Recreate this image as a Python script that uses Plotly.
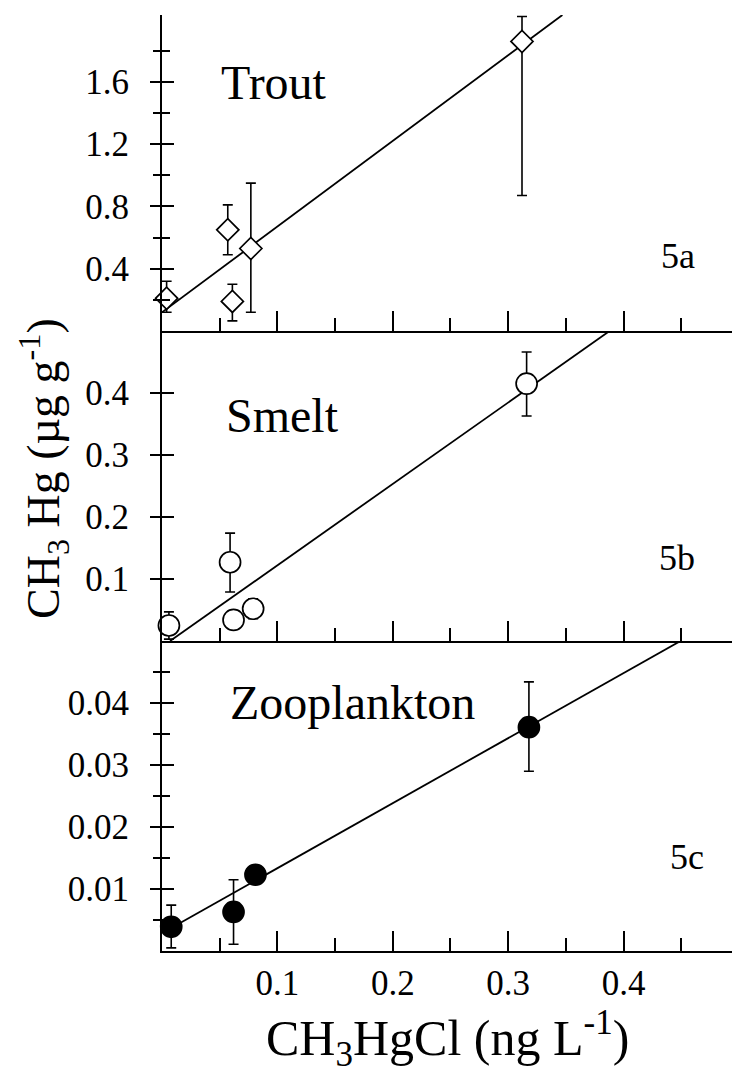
import plotly.graph_objects as go

# ---------------- data ----------------
trout_x = [0.004, 0.057, 0.061, 0.077, 0.312]
trout_y = [0.21, 0.65, 0.19, 0.53, 1.86]
trout_err_plus = [0.11, 0.16, 0.11, 0.42, 0.16]
trout_err_minus = [0.09, 0.16, 0.125, 0.41, 0.99]
trout_fit_x = [0.0, 0.347]
trout_fit_y = [0.12, 2.03]

smelt_x = [0.006, 0.059, 0.062, 0.079, 0.316]
smelt_y = [0.025, 0.127, 0.034, 0.052, 0.415]
smelt_err_plus = [0.022, 0.047, 0.0, 0.016, 0.051]
smelt_err_minus = [0.022, 0.048, 0.0, 0.016, 0.052]
smelt_fit_x = [0.007, 0.394]
smelt_fit_y = [0.0, 0.508]

zoo_x = [0.008, 0.062, 0.081, 0.318]
zoo_y = [0.0039, 0.0063, 0.0123, 0.0361]
zoo_err_plus = [0.0035, 0.0052, 0.0, 0.0073]
zoo_err_minus = [0.0034, 0.0052, 0.0, 0.0071]
zoo_fit_x = [0.008, 0.457]
zoo_fit_y = [0.0037, 0.0508]

x_tickvals = [0.1, 0.2, 0.3, 0.4]
x_ticktext = ["0.1", "0.2", "0.3", "0.4"]
x_minorvals = [0.05, 0.15, 0.25, 0.35, 0.45]

trout_tickvals = [0.4, 0.8, 1.2, 1.6]
trout_ticktext = ["0.4", "0.8", "1.2", "1.6"]
trout_minorvals = [0.2, 0.6, 1.0, 1.4, 1.8]

smelt_tickvals = [0.1, 0.2, 0.3, 0.4]
smelt_ticktext = ["0.1", "0.2", "0.3", "0.4"]

zoo_tickvals = [0.01, 0.02, 0.03, 0.04]
zoo_ticktext = ["0.01", "0.02", "0.03", "0.04"]
zoo_minorvals = [0.005, 0.015, 0.025, 0.035, 0.045]

# ---------------- style ----------------
FONT = "Liberation Serif"
INK = "black"
TICKFONT = dict(family=FONT, size=35, color=INK)

fig = go.Figure()


def add_panel(xs, ys, ep, em, fx, fy, xa, ya, symbol, size, fill):
    fig.add_trace(go.Scatter(
        x=fx, y=fy, mode="lines", line=dict(color=INK, width=1.8),
        xaxis=xa, yaxis=ya, showlegend=False, hoverinfo="skip"))
    fig.add_trace(go.Scatter(
        x=xs, y=ys, mode="markers",
        marker=dict(symbol=symbol, size=size, color=fill,
                    line=dict(color=INK, width=1.7)),
        error_y=dict(type="data", symmetric=False, array=ep, arrayminus=em,
                     color=INK, thickness=1.6, width=5),
        xaxis=xa, yaxis=ya, showlegend=False, cliponaxis=False))


add_panel(trout_x, trout_y, trout_err_plus, trout_err_minus,
          trout_fit_x, trout_fit_y, "x", "y", "diamond", 17, "white")
add_panel(smelt_x, smelt_y, smelt_err_plus, smelt_err_minus,
          smelt_fit_x, smelt_fit_y, "x2", "y2", "circle", 21, "white")
add_panel(zoo_x, zoo_y, zoo_err_plus, zoo_err_minus,
          zoo_fit_x, zoo_fit_y, "x3", "y3", "circle", 21, INK)

# empty traces to register overlay axes (inner half of crossing ticks)
for xa, ya in (("x", "y4"), ("x2", "y5"), ("x3", "y6")):
    fig.add_trace(go.Scatter(x=[], y=[], xaxis=xa, yaxis=ya,
                             showlegend=False, hoverinfo="skip"))

XR = [0, 0.494]
dom_c = [0, 0.3312]
dom_b = [0.3312, 0.6624]
dom_a = [0.6624, 1.0]


def xaxis(anchor, labels):
    return dict(
        range=XR, anchor=anchor, domain=[0, 1],
        showline=True, linewidth=2, linecolor=INK, mirror=False,
        showgrid=False, zeroline=False,
        ticks="inside", ticklen=20, tickwidth=1.5, tickcolor=INK,
        tickmode="array", tickvals=x_tickvals, ticktext=x_ticktext,
        showticklabels=labels, tickfont=TICKFONT, ticklabelstandoff=0,
        minor=dict(tickmode="array", tickvals=x_minorvals, ticks="inside",
                   ticklen=13, tickwidth=1.5, tickcolor=INK),
        fixedrange=True)


def yaxis(dom, rng, tv, tt, mv, anchor):
    d = dict(
        domain=dom, range=rng, anchor=anchor,
        showline=True, linewidth=2, linecolor=INK,
        showgrid=False, zeroline=False,
        ticks="outside", ticklen=10, tickwidth=1.5, tickcolor=INK,
        tickmode="array", tickvals=tv, ticktext=tt,
        tickfont=TICKFONT, ticklabelstandoff=14, fixedrange=True)
    if mv:
        d["minor"] = dict(tickmode="array", tickvals=mv, ticks="outside",
                          ticklen=7, tickwidth=1.5, tickcolor=INK)
    return d


def yinner(dom, rng, tv, mv, anchor, over):
    d = dict(
        domain=dom, range=rng, anchor=anchor, overlaying=over, side="left",
        showline=False, showgrid=False, zeroline=False,
        ticks="inside", ticklen=12, tickwidth=1.5, tickcolor=INK,
        tickmode="array", tickvals=tv, showticklabels=False, fixedrange=True)
    if mv:
        d["minor"] = dict(tickmode="array", tickvals=mv, ticks="inside",
                          ticklen=8, tickwidth=1.5, tickcolor=INK)
    return d


RA, RB, RC = [0, 2.03], [0, 0.5], [0, 0.05]

fig.update_layout(
    width=732, height=1073,
    margin=dict(l=162, r=0, t=15, b=122, pad=0),
    paper_bgcolor="white", plot_bgcolor="white",
    font=dict(family=FONT, color=INK),
    xaxis=xaxis("y", False),
    xaxis2=xaxis("y2", False),
    xaxis3=xaxis("y3", True),
    yaxis=yaxis(dom_a, RA, trout_tickvals, trout_ticktext, trout_minorvals, "x"),
    yaxis2=yaxis(dom_b, RB, smelt_tickvals, smelt_ticktext, None, "x2"),
    yaxis3=yaxis(dom_c, RC, zoo_tickvals, zoo_ticktext, zoo_minorvals, "x3"),
    yaxis4=yinner(dom_a, RA, trout_tickvals, trout_minorvals, "x", "y"),
    yaxis5=yinner(dom_b, RB, smelt_tickvals, None, "x2", "y2"),
    yaxis6=yinner(dom_c, RC, zoo_tickvals, zoo_minorvals, "x3", "y3"),
    showlegend=False,
)

LABEL = dict(family=FONT, size=48, color=INK)
PANEL = dict(family=FONT, size=36, color=INK)
anns = [
    dict(text="Trout", x=0.0974, y=1.594, xref="x", yref="y", font=LABEL),
    dict(text="Smelt", x=0.1043, y=0.3645, xref="x2", yref="y2", font=LABEL),
    dict(text="Zooplankton", x=0.165, y=0.040, xref="x3", yref="y3", font=LABEL),
    dict(text="5a", x=0.447, y=0.484, xref="x", yref="y", font=PANEL),
    dict(text="5b", x=0.4463, y=0.134, xref="x2", yref="y2", font=PANEL),
    dict(text="5c", x=0.455, y=0.01516, xref="x3", yref="y3", font=PANEL),
    dict(text="CH<sub>3</sub> Hg (µg g<sup>-1</sup>)", x=-0.207, y=0.515,
         xref="paper", yref="paper", textangle=-90,
         font=dict(family=FONT, size=46, color=INK)),
    dict(text="CH<sub>3</sub>HgCl (ng L<sup>-1</sup>)", x=0.5, y=-0.093,
         xref="paper", yref="paper",
         font=dict(family=FONT, size=50, color=INK)),
]
for a in anns:
    a.update(showarrow=False, xanchor="center", yanchor="middle")
fig.update_layout(annotations=anns)

fig.write_html("out.html")
